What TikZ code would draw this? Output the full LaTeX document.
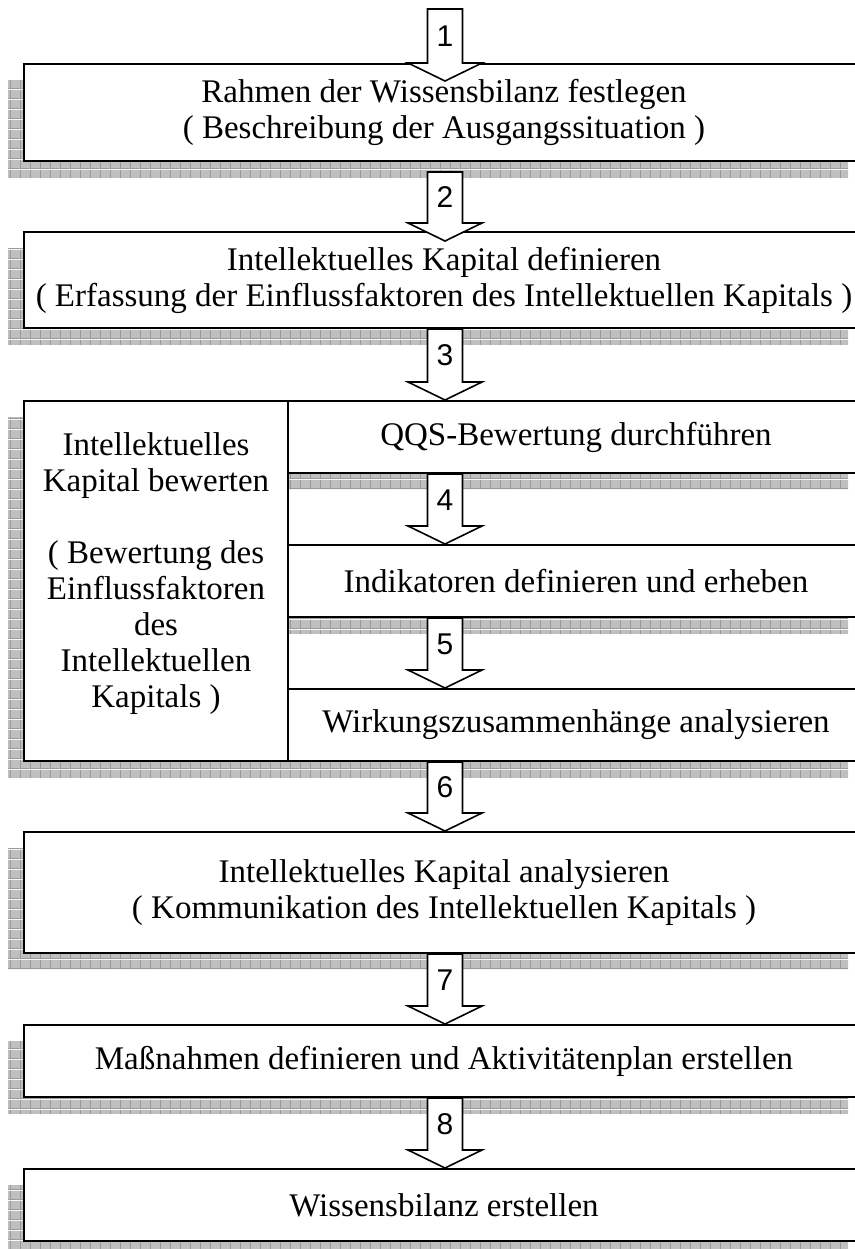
\documentclass[tikz,border=0pt]{standalone}
\usepackage{fontspec}
\setmainfont{Liberation Serif}
\newfontfamily\numfont{Liberation Sans}
\usetikzlibrary{calc,shadows,patterns.meta}

% grey grid used for the box shadows
\tikzdeclarepattern{
  name=shadowgrid,
  type=colored,
  bottom left={(0pt,0pt)},
  top right={(5pt,5pt)},
  tile size={(5pt,5pt)},
  code={
    \fill[black!25] (0pt,0pt) rectangle (5pt,5pt);
    \draw[black!40, line width=0.5pt] (0pt,0.25pt) -- (5pt,0.25pt) (0.25pt,0pt) -- (0.25pt,5pt);
  }
}

\begin{document}
\begin{tikzpicture}[
  x=0.5pt, y=-0.5pt,
  box/.style={draw, fill=white, line width=1pt, align=center, inner sep=2pt,
    font=\fontsize{16.5}{18}\selectfont,
    drop shadow={shadow xshift=-8pt, shadow yshift=-8pt, opacity=1, pattern=shadowgrid}},
  flowarrow/.style={draw, fill=white, line width=0.8pt, line join=miter},
  steplabel/.style={font=\numfont\fontsize{15}{16}\selectfont, inner sep=0pt}
]
\useasboundingbox (0,0) rectangle (855,1249);

\node[box, minimum width=420pt, minimum height=48.5pt] (rahmen) at (444,112.5) {Rahmen der Wissensbilanz festlegen\\( Beschreibung der Ausgangssituation )};
\node[box, minimum width=420pt, minimum height=48pt] (kapital) at (444,280) {Intellektuelles Kapital definieren\\( Erfassung der Einflussfaktoren des Intellektuellen Kapitals )};

\node[box, minimum width=288pt, minimum height=36pt] (qqs) at (576,437) {QQS-Bewertung durchführen};
\node[box, minimum width=288pt, minimum height=36pt] (indik) at (576,581) {Indikatoren definieren und erheben};
\node[box, minimum width=288pt, minimum height=36pt] (wirk) at (576,725) {Wirkungszusammenhänge analysieren};
\node[box, minimum width=132pt, minimum height=180pt] (bewerten) at (156,581) {Intellektuelles\\Kapital bewerten\\[18pt]( Bewertung des\\Einflussfaktoren\\des\\Intellektuellen\\Kapitals )\\[-7pt]\mbox{}};

\node[box, minimum width=420pt, minimum height=60.5pt] (analyse) at (444,892.5) {Intellektuelles Kapital analysieren\\( Kommunikation des Intellektuellen Kapitals )};
\node[box, minimum width=420pt, minimum height=36pt] (massn) at (444,1061) {Maßnahmen definieren und Aktivitätenplan erstellen};
\node[box, minimum width=420pt, minimum height=36pt] (bilanz) at (444,1205) {Wissensbilanz erstellen};

% step arrows
\coordinate (axis) at (445,0);
\coordinate (start) at (445,9);
\foreach \src/\dst/\dt/\dh/\lbl in {start/rahmen.north/0/18/1, rahmen.south/kapital.north/10/10/2,
    kapital.south/qqs.north/0/0/3, qqs.south/indik.north/0/0/4, indik.south/wirk.north/0/0/5,
    wirk.south/analyse.north/0/0/6, analyse.south/massn.north/0/0/7, massn.south/bilanz.north/0/0/8}{
  \path ($(axis |- \src)+(0,\dt)$) coordinate (ft) ($(axis |- \dst)+(0,\dh)$) coordinate (fh);
  \draw[flowarrow] let \p1=(ft), \p2=(fh) in
    (\x1-8.75pt,\y1) -- (\x1+8.75pt,\y1) -- (\x1+8.75pt,\y2+9pt) -- (\x1+18.5pt,\y2+9pt)
    -- (\x1,\y2) -- (\x1-18.5pt,\y2+9pt) -- (\x1-8.75pt,\y2+9pt) -- cycle;
  \node[steplabel] (step\lbl) at ($(ft)!0.5!(fh)+(0,-9)$) {\lbl};
}
\end{tikzpicture}
\end{document}
